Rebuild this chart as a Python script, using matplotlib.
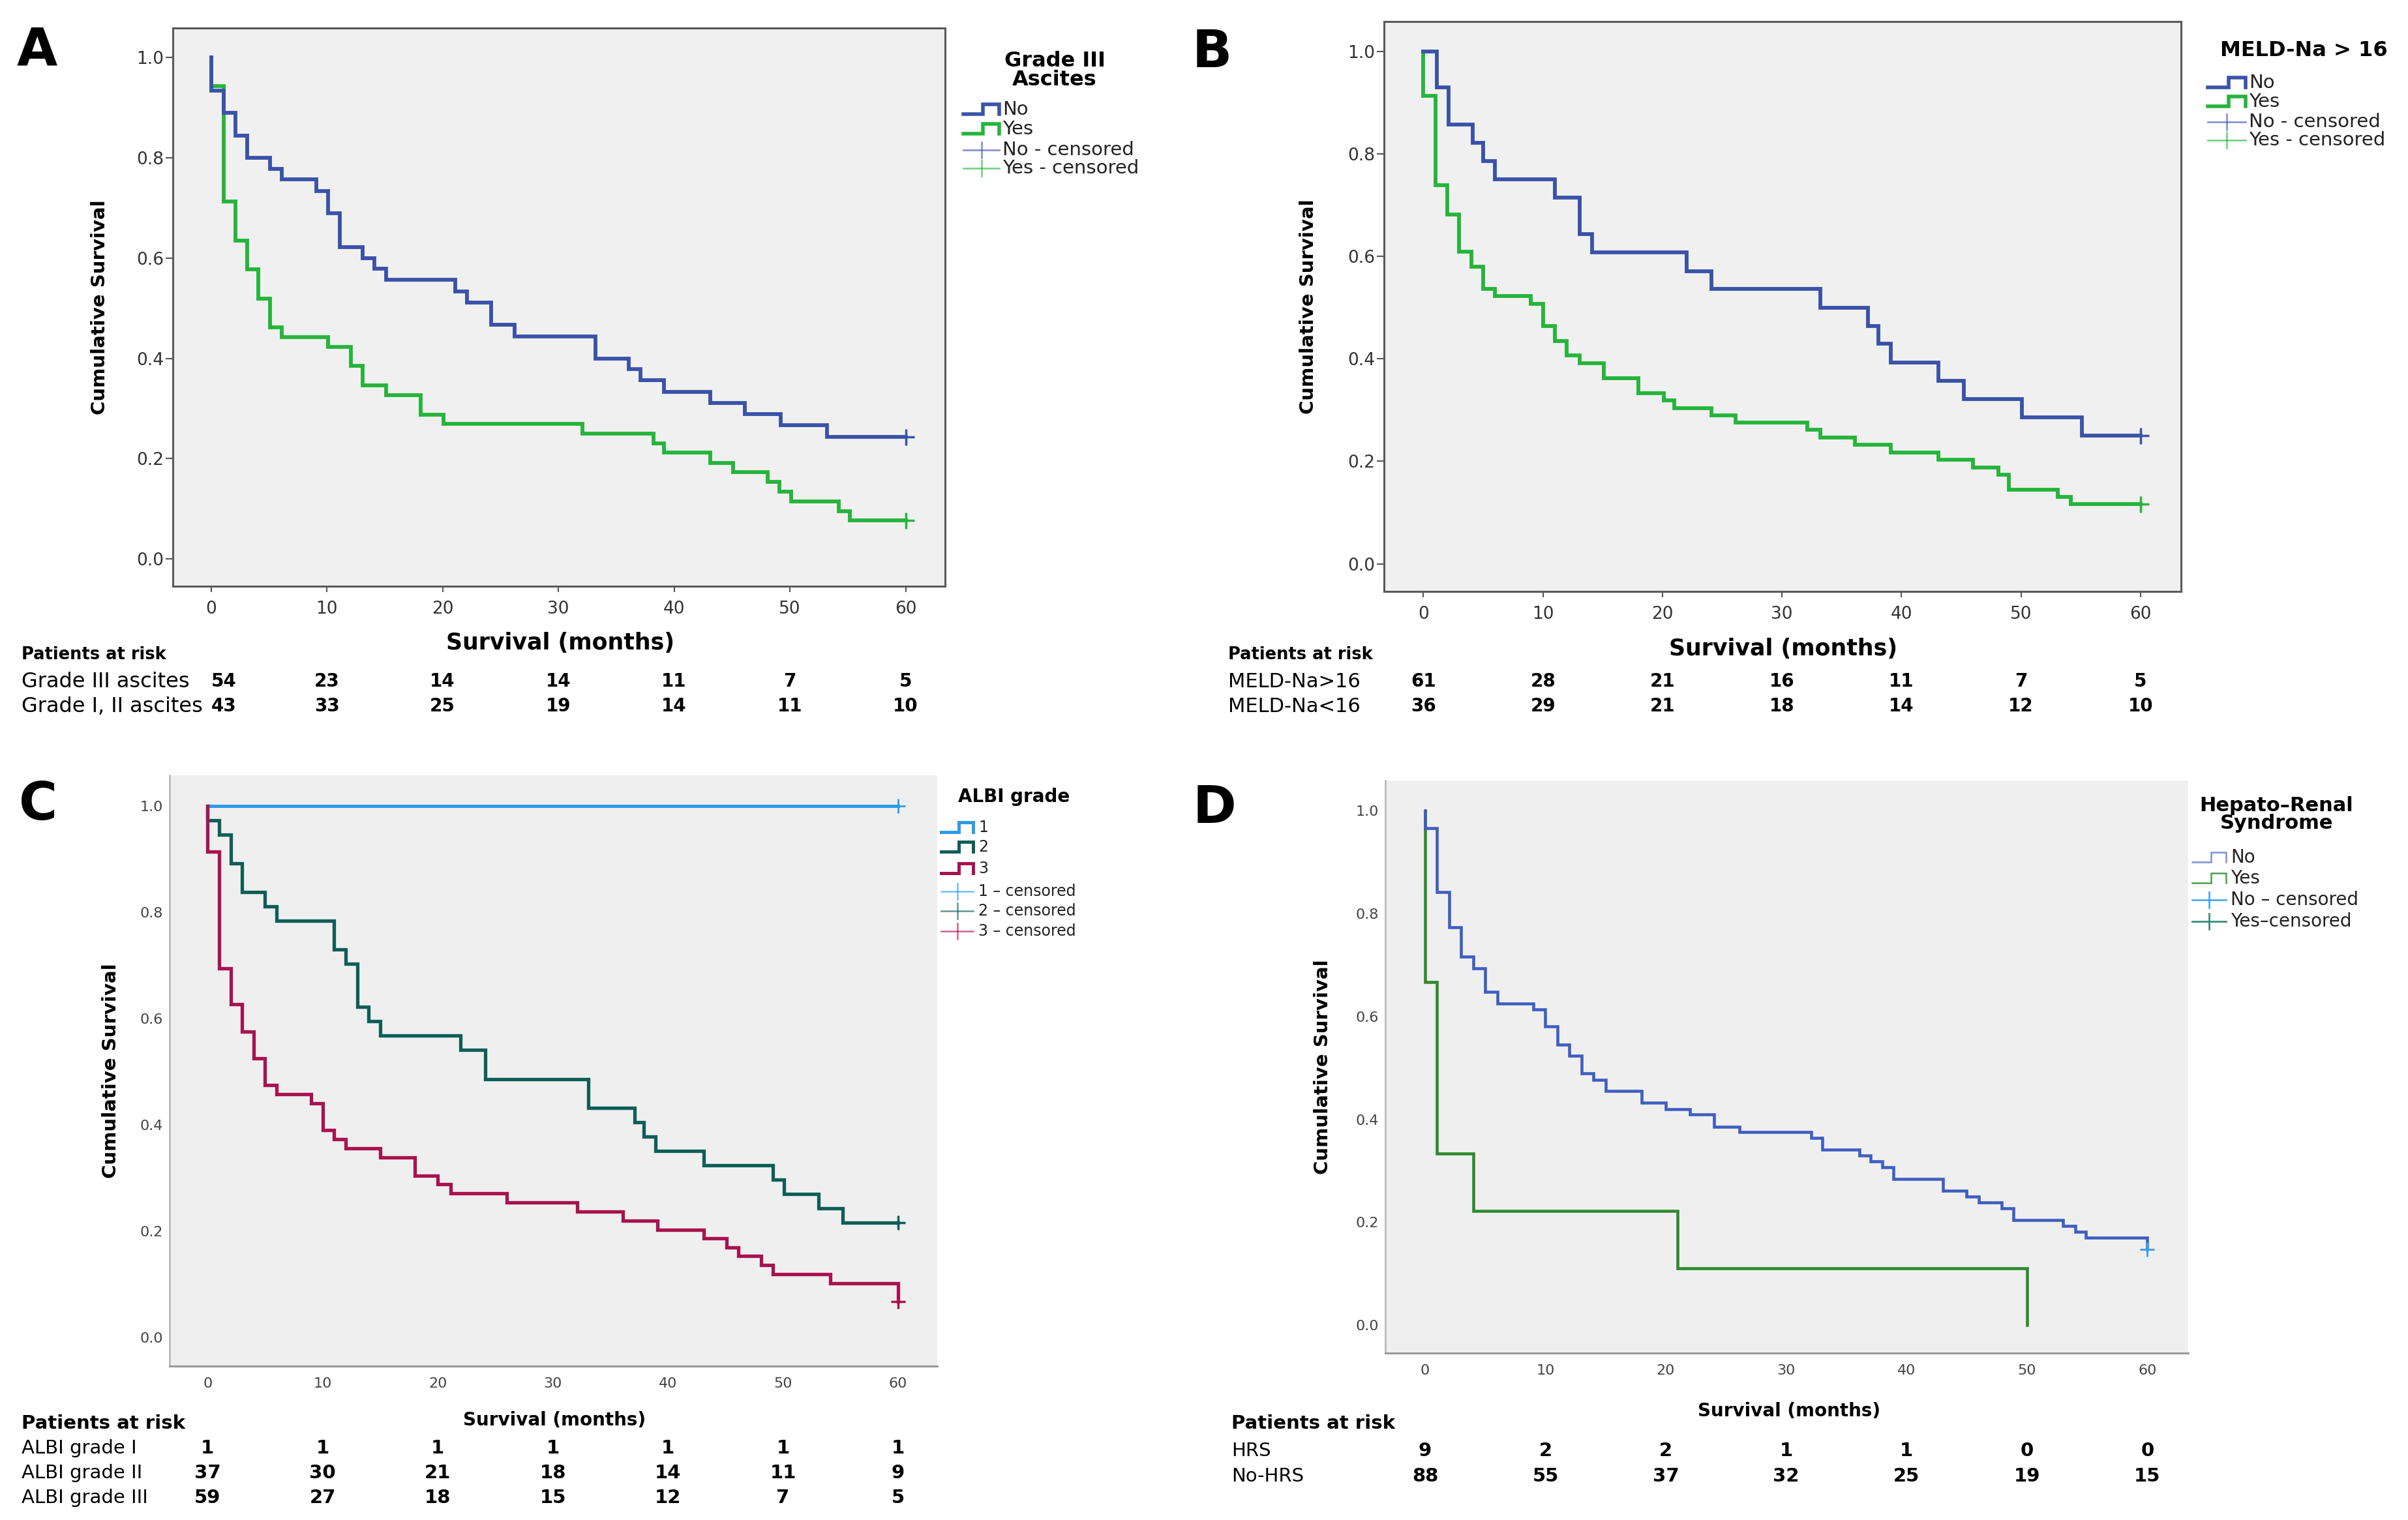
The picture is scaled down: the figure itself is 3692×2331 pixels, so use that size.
import matplotlib
matplotlib.use('Agg')
import matplotlib.pyplot as plt
import matplotlib.transforms as mtransforms
from matplotlib.lines import Line2D

plt.rcParams['font.family'] = ['DejaVu Sans']

W, H = 3692, 2331
fig = plt.figure(figsize=(W / 100, H / 100), dpi=100)

months = [0, 10, 20, 30, 40, 50, 60]
yticks = [0.0, 0.2, 0.4, 0.6, 0.8, 1.0]

# A - Grade III ascites
a_no_t = [0, 0, 1.1, 2.1, 3.1, 5.1, 6.1, 9.1, 10.1, 11.1, 13.1, 14.1, 15.1, 21.1, 22.1,
          24.2, 26.2, 33.2, 36.1, 37.1, 39.1, 43.1, 46.1, 49.2, 53.2]
a_no_s = [1.0, 0.933, 0.889, 0.844, 0.800, 0.778, 0.756, 0.733, 0.689, 0.622, 0.600, 0.578,
          0.556, 0.533, 0.511, 0.467, 0.444, 0.400, 0.378, 0.356, 0.333, 0.311, 0.289, 0.267, 0.244]
a_yes_t = [0, 0, 1.1, 2.1, 3.1, 4.1, 5.1, 6.1, 10.1, 12.1, 13.1, 15.1, 18.1, 20.1, 32.1,
           38.2, 39.1, 43.1, 45.1, 48.1, 49.1, 50.1, 54.2, 55.2]
a_yes_s = [1.0, 0.942, 0.712, 0.635, 0.577, 0.519, 0.462, 0.442, 0.423, 0.385, 0.346, 0.327,
           0.288, 0.269, 0.250, 0.231, 0.212, 0.192, 0.173, 0.154, 0.135, 0.115, 0.096, 0.077]
a_risk_labels = ['Grade III ascites', 'Grade I, II ascites']
a_risk = [[54, 23, 14, 14, 11, 7, 5], [43, 33, 25, 19, 14, 11, 10]]

# B - MELD-Na > 16
b_no_t = [0, 1.1, 2.1, 4.1, 5.0, 6.0, 11.0, 13.1, 14.1, 22.0, 24.1, 33.2, 37.2, 38.1, 39.1,
          43.1, 45.2, 50.1, 55.1]
b_no_s = [1.0, 0.929, 0.857, 0.821, 0.786, 0.750, 0.714, 0.643, 0.607, 0.571, 0.536, 0.500,
          0.464, 0.429, 0.393, 0.357, 0.321, 0.286, 0.250]
b_yes_t = [0, 0, 1.0, 2.0, 3.0, 4.0, 5.0, 6.0, 9.0, 10.0, 11.0, 12.0, 13.1, 15.1, 18.0, 20.1,
           21.0, 24.1, 26.1, 32.1, 33.2, 36.1, 39.1, 43.1, 46.0, 48.1, 49.0, 53.1, 54.2]
b_yes_s = [1.0, 0.913, 0.739, 0.681, 0.609, 0.580, 0.536, 0.522, 0.507, 0.464, 0.435, 0.406,
           0.391, 0.362, 0.333, 0.319, 0.304, 0.290, 0.275, 0.261, 0.246, 0.232, 0.217, 0.203,
           0.188, 0.174, 0.145, 0.130, 0.116]
b_risk_labels = ['MELD-Na>16', 'MELD-Na<16']
b_risk = [[61, 28, 21, 16, 11, 7, 5], [36, 29, 21, 18, 14, 12, 10]]

# C - ALBI grade
c_1_t = [0]
c_1_s = [1.0]
c_2_t = [0, 0, 1.0, 2.0, 3.0, 5.0, 6.0, 11.0, 12.0, 13.0, 14.0, 15.0, 22.0, 24.1, 33.1, 37.1,
         37.9, 38.9, 43.1, 49.1, 50.1, 53.1, 55.2]
c_2_s = [1.0, 0.973, 0.946, 0.892, 0.838, 0.811, 0.784, 0.730, 0.703, 0.622, 0.595, 0.568,
         0.541, 0.486, 0.432, 0.405, 0.378, 0.351, 0.324, 0.297, 0.270, 0.243, 0.216]
c_3_t = [0, 0, 1, 2, 3, 4, 5, 6, 9, 10, 11, 12, 15, 18, 20, 21.1, 26, 32.1, 36.1, 39.1, 43.1,
         45.1, 46.1, 48.1, 49.1, 54.1, 60]
c_3_s = [1.0, 0.915, 0.695, 0.627, 0.576, 0.525, 0.475, 0.458, 0.441, 0.390, 0.373, 0.356,
         0.339, 0.305, 0.288, 0.271, 0.254, 0.237, 0.220, 0.203, 0.186, 0.169, 0.153, 0.136,
         0.119, 0.102, 0.068]
c_risk_labels = ['ALBI grade I', 'ALBI grade II', 'ALBI grade III']
c_risk = [[1, 1, 1, 1, 1, 1, 1], [37, 30, 21, 18, 14, 11, 9], [59, 27, 18, 15, 12, 7, 5]]

# D - Hepato-Renal Syndrome
d_no_t = [0, 0, 1.0, 2, 3, 4, 5, 6, 9, 10, 11, 12, 13, 14, 15, 18, 20, 22, 24, 26.1, 32.1, 33,
          36.1, 37, 38, 38.9, 43, 45, 46, 47.9, 48.9, 53, 54, 54.9, 60]
d_no_s = [1.0, 0.966, 0.841, 0.773, 0.716, 0.693, 0.648, 0.625, 0.614, 0.580, 0.545, 0.523,
          0.489, 0.477, 0.455, 0.432, 0.420, 0.409, 0.386, 0.375, 0.364, 0.341, 0.330, 0.318,
          0.307, 0.284, 0.261, 0.250, 0.239, 0.227, 0.205, 0.193, 0.182, 0.170, 0.148]
d_yes_t = [0, 0, 1.0, 4.0, 21.0, 50.0]
d_yes_s = [1.0, 0.667, 0.333, 0.222, 0.111, 0.0]
d_risk_labels = ['HRS', 'No-HRS']
d_risk = [[9, 2, 2, 1, 1, 0, 0], [88, 55, 37, 32, 25, 19, 15]]


def fx(x):
    return x / W


def fy(y):
    return 1 - y / H


def make_axes(left, top, right, bottom):
    ax = fig.add_axes([fx(left), fy(bottom), (right - left) / W, (bottom - top) / H])
    ax.set_xlim(-3.3, 63.4)
    ax.set_ylim(-0.054, 1.058)
    ax.set_xticks(months)
    ax.set_yticks(yticks)
    ax.set_yticklabels(['%.1f' % v for v in yticks])
    return ax


def km(ax, t, s, color, lw, end=60):
    tt = list(t)
    ss = list(s)
    if end is not None and tt[-1] < end:
        tt.append(end)
        ss.append(ss[-1])
    ax.step(tt, ss, where='post', color=color, lw=lw, solid_joinstyle='miter')


def censor(ax, x, y, color, ms=18, mew=2.5):
    ax.plot([x], [y], marker='+', ms=ms, mew=mew, color=color, ls='none')


def top_style(ax):
    ax.set_facecolor('#f0f0f0')
    for sp in ax.spines.values():
        sp.set_color('#5a5a5a')
        sp.set_linewidth(2.2)
    ax.tick_params(axis='y', direction='out', length=8, width=1.5, color='#555555',
                   labelsize=19, labelcolor='#333333', pad=2)
    ax.tick_params(axis='x', direction='out', length=6.5, width=1.5, color='#555555',
                   labelsize=19, labelcolor='#333333', pad=9)


def bottom_style(ax):
    ax.set_facecolor('#efefef')
    ax.spines['top'].set_visible(False)
    ax.spines['right'].set_visible(False)
    ax.spines['left'].set_color('#b4b4b4')
    ax.spines['bottom'].set_color('#9a9a9a')
    ax.spines['left'].set_linewidth(1.8)
    ax.spines['bottom'].set_linewidth(2.2)
    ax.tick_params(axis='y', length=0, labelsize=16, labelcolor='#444444', pad=7)
    ax.tick_params(axis='x', length=0, labelsize=16, labelcolor='#444444', pad=12)


def risk_table(ax, x_left, y_head, ys, labels, rows, shift0=0.0, sizes=(21, 21, 21)):
    hsize, lsize, nsize = sizes
    fig.text(fx(x_left), fy(y_head), 'Patients at risk', fontsize=hsize, fontweight='bold',
             ha='left', va='center')
    tr = mtransforms.blended_transform_factory(ax.transData, fig.transFigure)
    for y, lab, row in zip(ys, labels, rows):
        fig.text(fx(x_left), fy(y), lab, fontsize=lsize, ha='left', va='center')
        for i, (m, n) in enumerate(zip(months, row)):
            xm = m + (shift0 if i == 0 else 0)
            ax.text(xm, fy(y), str(n), transform=tr, fontsize=nsize, fontweight='bold',
                    ha='center', va='center', clip_on=False)


def leg_step(x0, x1, y, color, lw):
    xm = x0 + 0.55 * (x1 - x0)
    xs = [x0, xm, xm, x1, x1]
    ys = [y + 7, y + 7, y - 8, y - 8, y + 7]
    fig.add_artist(Line2D([fx(v) for v in xs], [fy(v) for v in ys], color=color, lw=lw,
                          solid_joinstyle='miter'))


def leg_cens(x0, x1, y, color, lw, alpha=0.7):
    xc = (x0 + x1) / 2
    fig.add_artist(Line2D([fx(x0), fx(x1)], [fy(y), fy(y)], color=color, lw=lw, alpha=alpha))
    fig.add_artist(Line2D([fx(xc), fx(xc)], [fy(y - 12), fy(y + 12)], color=color, lw=lw,
                          alpha=alpha))


def letter(x, y, s):
    fig.text(fx(x), fy(y), s, fontsize=58, fontweight='bold', ha='center', va='center')


BLUE = '#3a53a8'
GREEN = '#26b43b'

# ---------------- Panel A ----------------
axA = make_axes(265, 43, 1449, 899)
top_style(axA)
km(axA, a_yes_t, a_yes_s, GREEN, 4.2)
km(axA, a_no_t, a_no_s, BLUE, 4.2)
censor(axA, 60, a_no_s[-1], BLUE)
censor(axA, 60, a_yes_s[-1], GREEN)
letter(57, 79, 'A')
fig.text(fx(153), fy(471), 'Cumulative Survival', rotation=90, fontsize=21,
         fontweight='bold', ha='center', va='center')
fig.text(fx(859), fy(986), 'Survival (months)', fontsize=25, fontweight='bold',
         ha='center', va='center')
risk_table(axA, 33, 1004, [1045, 1083], a_risk_labels, a_risk, shift0=1.1, sizes=(18.5, 23, 20))
fig.text(fx(1617), fy(108), 'Grade III\nAscites', fontsize=23, fontweight='bold',
         ha='center', va='center', linespacing=0.95)
for y, lab, kind, col in zip([168, 198, 230, 258],
                             ['No', 'Yes', 'No - censored', 'Yes - censored'],
                             ['s', 's', 'c', 'c'], [BLUE, GREEN, BLUE, GREEN]):
    if kind == 's':
        leg_step(1477, 1532, y, col, 4.0)
    else:
        leg_cens(1477, 1532, y, col, 2.0, 0.6)
    fig.text(fx(1537), fy(y), lab, fontsize=21, color='#222222', ha='left', va='center')

# ---------------- Panel B ----------------
axB = make_axes(2122, 33, 3344, 907)
top_style(axB)
km(axB, b_yes_t, b_yes_s, GREEN, 4.2)
km(axB, b_no_t, b_no_s, BLUE, 4.2)
censor(axB, 60, b_no_s[-1], BLUE)
censor(axB, 60, b_yes_s[-1], GREEN)
letter(1858, 81, 'B')
fig.text(fx(2006), fy(470), 'Cumulative Survival', rotation=90, fontsize=21,
         fontweight='bold', ha='center', va='center')
fig.text(fx(2734), fy(995), 'Survival (months)', fontsize=25, fontweight='bold',
         ha='center', va='center')
risk_table(axB, 1883, 1004, [1045, 1083], b_risk_labels, b_risk, sizes=(18.5, 22, 20))
fig.text(fx(3532), fy(78), 'MELD-Na > 16', fontsize=23, fontweight='bold',
         ha='center', va='center')
for y, lab, kind, col in zip([127, 156, 187, 215],
                             ['No', 'Yes', 'No - censored', 'Yes - censored'],
                             ['s', 's', 'c', 'c'], [BLUE, GREEN, BLUE, GREEN]):
    if kind == 's':
        leg_step(3385, 3443, y, col, 4.0)
    else:
        leg_cens(3385, 3443, y, col, 2.0, 0.6)
    fig.text(fx(3448), fy(y), lab, fontsize=21, color='#222222', ha='left', va='center')

# ---------------- Panel C ----------------
C1, C2, C3 = '#2e9be8', '#0f5e58', '#a8134f'
axC = make_axes(260, 1189, 1437, 2095)
bottom_style(axC)
km(axC, c_1_t, c_1_s, C1, 3.6)
km(axC, c_2_t, c_2_s, C2, 3.8)
km(axC, c_3_t, c_3_s, C3, 3.8)
censor(axC, 60, c_1_s[-1], C1, ms=16, mew=2.0)
censor(axC, 60, c_2_s[-1], C2, ms=16, mew=2.5)
censor(axC, 60, c_3_s[-1], C3, ms=16, mew=2.5)
letter(59, 1235, 'C')
fig.text(fx(170), fy(1642), 'Cumulative Survival', rotation=90, fontsize=21,
         fontweight='bold', ha='center', va='center')
fig.text(fx(850), fy(2178), 'Survival (months)', fontsize=20, fontweight='bold',
         ha='center', va='center')
risk_table(axC, 33, 2183, [2221, 2259, 2297], c_risk_labels, c_risk)
fig.text(fx(1469), fy(1222), 'ALBI grade', fontsize=20, fontweight='bold',
         ha='left', va='center')
for y, lab, kind, col in zip([1269, 1299, 1332, 1367, 1397, 1428],
                             ['1', '2', '3', '1 – censored', '2 – censored', '3 – censored'],
                             ['s', 's', 's', 'c', 'c', 'c'], [C1, C2, C3, C1, C2, C3]):
    if kind == 's':
        leg_step(1443, 1492, y, col, 3.6)
    else:
        leg_cens(1443, 1492, y, col, 1.8, 0.65)
    fig.text(fx(1500), fy(y), lab, fontsize=17, color='#222222', ha='left', va='center')

# ---------------- Panel D ----------------
D1, D2, D3, D4 = '#3e5ec0', '#2e8a2e', '#3aa2f0', '#2a7f6f'
axD = make_axes(2124, 1197, 3355, 2075)
bottom_style(axD)
km(axD, d_yes_t, d_yes_s, D2, 3.3, end=None)
km(axD, d_no_t, d_no_s, D1, 3.3)
censor(axD, 60, d_no_s[-1], D3, ms=16, mew=2.2)
letter(1862, 1240, 'D')
fig.text(fx(2028), fy(1636), 'Cumulative Survival', rotation=90, fontsize=21,
         fontweight='bold', ha='center', va='center')
fig.text(fx(2743), fy(2164), 'Survival (months)', fontsize=20, fontweight='bold',
         ha='center', va='center')
risk_table(axD, 1888, 2183, [2225, 2264], d_risk_labels, d_risk)
fig.text(fx(3490), fy(1249), 'Hepato–Renal\nSyndrome', fontsize=22, fontweight='bold',
         ha='center', va='center', linespacing=0.95)
for y, lab, kind, col in zip([1315, 1347, 1380, 1413],
                             ['No', 'Yes', 'No – censored', 'Yes–censored'],
                             ['s', 's', 'c', 'c'], ['#7f8fd2', '#4aa04a', D3, D4]):
    if kind == 's':
        leg_step(3361, 3413, y, col, 1.8)
    else:
        leg_cens(3361, 3413, y, col, 2.0, 0.9)
    fig.text(fx(3420), fy(y), lab, fontsize=20, color='#222222', ha='left', va='center')

fig.savefig('out.png', dpi=100, facecolor='white')
